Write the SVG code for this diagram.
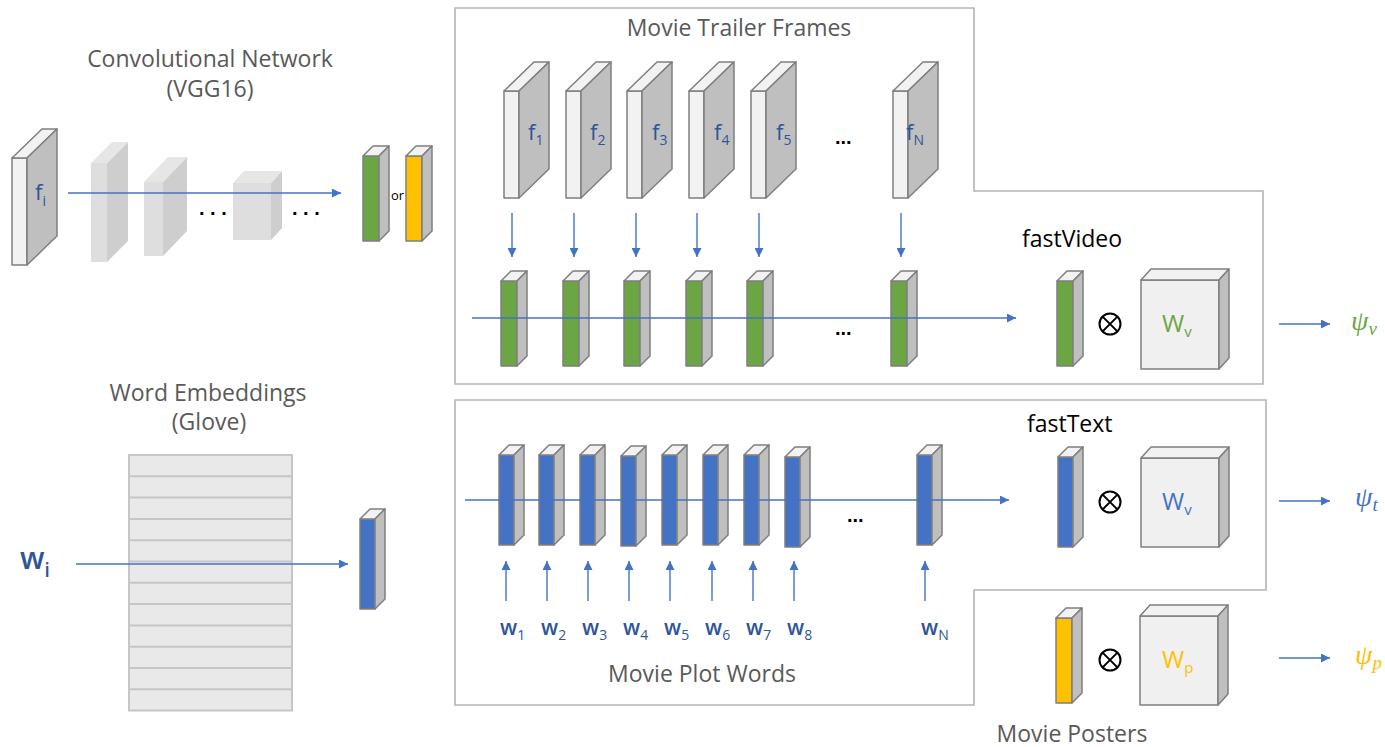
<svg xmlns="http://www.w3.org/2000/svg" xmlns:xlink="http://www.w3.org/1999/xlink" width="1385" height="747" viewBox="0 0 1385 747">
<style>
  .title { font-family: "Open Sans", "Liberation Sans", sans-serif; font-size: 23px; fill: #595959; }
  .head { font-family: "Open Sans", "Liberation Sans", sans-serif; font-size: 23px; fill: #000; }
  .lbl { font-family: "Open Sans", "Liberation Sans", sans-serif; font-size: 22px; fill: #2f5597; }
  .wl { font-family: "Open Sans", "Liberation Sans", sans-serif; font-size: 21px; font-weight: 600; fill: #2f5597; }
  .dots { font-family: "Liberation Sans", sans-serif; font-size: 20px; font-weight: bold; fill: #000; }
  .psi { font-family: "Liberation Serif", "DejaVu Serif", serif; font-style: italic; font-size: 28px; }
  .edge { stroke: #7f7f7f; stroke-width: 1.5; stroke-linejoin: round; }
  .panel { fill: none; stroke: #b4b4b4; stroke-width: 1.6; }
  .arr { stroke: #4472c4; stroke-width: 1.4; fill: none; marker-end: url(#ah); }
  .fade-f { fill: #dedede; }
  .fade-s { fill: #cecece; }
  .fade-t { fill: #e6e6e6; }
  .otimes { fill: none; stroke: #000; stroke-width: 2; }
</style>
<defs>
  <marker id="ah" markerUnits="userSpaceOnUse" markerWidth="10" markerHeight="9" refX="9" refY="4.5" orient="auto">
    <path d="M0,0 L9,4.5 L0,9 z" fill="#4472c4"/>
  </marker>
  <g id="frame" class="edge">
    <rect x="0" y="0" width="15" height="107" fill="#f2f2f2"/>
    <polygon points="0,0 30,-29 45,-29 15,0" fill="#f2f2f2"/>
    <polygon points="15,0 45,-29 45,78 15,107" fill="#bfbfbf"/>
  </g>
  <g id="gvec" class="edge">
    <rect x="0" y="0" width="16" height="85"/>
    <polygon points="0,0 10,-10 26,-10 16,0" fill="#f2f2f2"/>
    <polygon points="16,0 26,-10 26,75 16,85" fill="#bfbfbf"/>
  </g>
  <g id="bvec" class="edge">
    <rect x="0" y="0" width="15" height="90"/>
    <polygon points="0,0 10,-10 25,-10 15,0" fill="#f2f2f2"/>
    <polygon points="15,0 25,-10 25,80 15,90" fill="#bfbfbf"/>
  </g>
  <g id="wbox" class="edge">
    <rect x="0" y="0" width="78" height="89" fill="#f0f0f0"/>
    <polygon points="0,0 10,-11 88,-11 78,0" fill="#f2f2f2"/>
    <polygon points="78,0 88,-11 88,78 78,89" fill="#bfbfbf"/>
  </g>
  <g id="otimes" class="otimes">
    <circle cx="0" cy="0" r="10.5"/>
    <path d="M-7.4,-7.4 L7.4,7.4 M7.4,-7.4 L-7.4,7.4"/>
  </g>
</defs>

<g id="panels">
  <polygon id="panel-video" class="panel" points="455,8 974,8 974,191 1263,191 1263,384 455,384"/>
  <polygon id="panel-text" class="panel" points="455,400 1266,400 1266,590 974,590 974,705 455,705"/>
</g>

<!-- Convolutional network -->
<g id="conv-title">
  <text class="title" x="210" y="67" text-anchor="middle">Convolutional Network</text>
  <text class="title" x="210" y="97" text-anchor="middle">(VGG16)</text>
</g>
<g id="conv-input">
  <use xlink:href="#frame" href="#frame" x="12" y="158"/>
  <text class="lbl" x="35" y="200">f<tspan font-size="14" dy="6">i</tspan></text>
</g>
<g id="conv-layers">
  <rect class="fade-f" x="91" y="163" width="16" height="99"/>
  <polygon class="fade-s" points="107,163 128,142 128,241 107,262"/>
  <polygon class="fade-t" points="91,163 112,142 128,142 107,163"/>
  <rect class="fade-f" x="144" y="182" width="19" height="74"/>
  <polygon class="fade-s" points="163,182 187,157 187,231 163,256"/>
  <polygon class="fade-t" points="144,182 168,157 187,157 163,182"/>
  <rect class="fade-f" x="233" y="183" width="38" height="57"/>
  <polygon class="fade-s" points="271,183 282,171 282,228 271,240"/>
  <polygon class="fade-t" points="233,183 244,171 282,171 271,183"/>
  <text class="dots" x="199" y="215">. . .</text>
  <text class="dots" x="292" y="215">. . .</text>
</g>
<g id="conv-output">
  <use xlink:href="#gvec" href="#gvec" x="363" y="156" fill="#6ca644"/>
  <text x="391" y="200" font-family="Open Sans, Liberation Sans, sans-serif" font-size="13" fill="#000">or</text>
  <use xlink:href="#gvec" href="#gvec" x="406" y="156" fill="#ffc000"/>
</g>

<!-- Word embeddings -->
<g id="glove-title">
  <text class="title" x="208" y="401" text-anchor="middle">Word Embeddings</text>
  <text class="title" x="209" y="430" text-anchor="middle">(Glove)</text>
</g>
<g id="glove-matrix">
  <rect x="129" y="455" width="163" height="256" fill="#e9e9e9"/>
  <g stroke="#c6c6c6" stroke-width="2">
    <line x1="129" y1="455" x2="129" y2="711"/>
    <line x1="292" y1="455" x2="292" y2="711"/>
    <line x1="128" y1="455" x2="293" y2="455"/>
    <line x1="128" y1="476.3" x2="293" y2="476.3"/>
    <line x1="128" y1="497.6" x2="293" y2="497.6"/>
    <line x1="128" y1="518.9" x2="293" y2="518.9"/>
    <line x1="128" y1="540.2" x2="293" y2="540.2"/>
    <line x1="128" y1="561.5" x2="293" y2="561.5"/>
    <line x1="128" y1="582.8" x2="293" y2="582.8"/>
    <line x1="128" y1="604.1" x2="293" y2="604.1"/>
    <line x1="128" y1="625.4" x2="293" y2="625.4"/>
    <line x1="128" y1="646.7" x2="293" y2="646.7"/>
    <line x1="128" y1="668" x2="293" y2="668"/>
    <line x1="128" y1="689.3" x2="293" y2="689.3"/>
    <line x1="128" y1="710.6" x2="293" y2="710.6"/>
  </g>
</g>
<g id="word-input">
  <text x="20" y="569" font-family="Open Sans, Liberation Sans, sans-serif" font-size="30" font-weight="600" fill="#2f5597">w<tspan font-size="19" dy="8">i</tspan></text>
</g>
<g id="word-vector">
  <use xlink:href="#bvec" href="#bvec" x="360" y="519" fill="#4472c4"/>
</g>

<!-- Movie trailer frames -->
<g id="trailer-title">
  <text class="title" x="739" y="36" text-anchor="middle">Movie Trailer Frames</text>
</g>
<g id="frames">
  <g id="frame-1"><use xlink:href="#frame" href="#frame" x="504" y="91"/><text class="lbl" x="528" y="140">f<tspan font-size="14" dy="5">1</tspan></text></g>
  <g id="frame-2"><use xlink:href="#frame" href="#frame" x="566" y="91"/><text class="lbl" x="590" y="140">f<tspan font-size="14" dy="5">2</tspan></text></g>
  <g id="frame-3"><use xlink:href="#frame" href="#frame" x="627" y="91"/><text class="lbl" x="652" y="140">f<tspan font-size="14" dy="5">3</tspan></text></g>
  <g id="frame-4"><use xlink:href="#frame" href="#frame" x="689" y="91"/><text class="lbl" x="714" y="140">f<tspan font-size="14" dy="5">4</tspan></text></g>
  <g id="frame-5"><use xlink:href="#frame" href="#frame" x="751" y="91"/><text class="lbl" x="776" y="140">f<tspan font-size="14" dy="5">5</tspan></text></g>
  <text class="dots" x="835" y="144">...</text>
  <g id="frame-N"><use xlink:href="#frame" href="#frame" x="893" y="91"/><text class="lbl" x="906" y="140">f<tspan font-size="14" dy="5">N</tspan></text></g>
</g>
<g id="frame-features">
  <use xlink:href="#gvec" href="#gvec" x="501" y="281" fill="#6ca644"/>
  <use xlink:href="#gvec" href="#gvec" x="563" y="281" fill="#6ca644"/>
  <use xlink:href="#gvec" href="#gvec" x="624" y="281" fill="#6ca644"/>
  <use xlink:href="#gvec" href="#gvec" x="686" y="281" fill="#6ca644"/>
  <use xlink:href="#gvec" href="#gvec" x="747" y="281" fill="#6ca644"/>
  <text class="dots" x="835" y="335">...</text>
  <use xlink:href="#gvec" href="#gvec" x="891" y="281" fill="#6ca644"/>
</g>
<g id="fastvideo">
  <text class="head" x="1022" y="247">fastVideo</text>
  <use xlink:href="#gvec" href="#gvec" x="1057" y="281" fill="#6ca644"/>
  <use xlink:href="#otimes" href="#otimes" x="1110" y="324"/>
</g>
<g id="wv-video">
  <use xlink:href="#wbox" href="#wbox" x="1141" y="280"/>
  <text x="1162" y="332" font-family="Open Sans, Liberation Sans, sans-serif" font-size="24" fill="#6ca644">W<tspan font-size="15" dy="5">v</tspan></text>
</g>
<g id="psi-v">
  <text class="psi" x="1351" y="330" fill="#6ca644">ψ<tspan font-size="19" dy="5">v</tspan></text>
</g>

<!-- Movie plot words -->
<g id="word-features">
  <use xlink:href="#bvec" href="#bvec" x="499" y="455" fill="#4472c4"/>
  <use xlink:href="#bvec" href="#bvec" x="539" y="455" fill="#4472c4"/>
  <use xlink:href="#bvec" href="#bvec" x="580" y="455" fill="#4472c4"/>
  <use xlink:href="#bvec" href="#bvec" x="621" y="456" fill="#4472c4"/>
  <use xlink:href="#bvec" href="#bvec" x="662" y="455" fill="#4472c4"/>
  <use xlink:href="#bvec" href="#bvec" x="703" y="455" fill="#4472c4"/>
  <use xlink:href="#bvec" href="#bvec" x="744" y="455" fill="#4472c4"/>
  <use xlink:href="#bvec" href="#bvec" x="785" y="457" fill="#4472c4"/>
  <text class="dots" x="847" y="522">...</text>
  <use xlink:href="#bvec" href="#bvec" x="917" y="455" fill="#4472c4"/>
</g>
<g id="plot-words">
  <text class="wl" x="500" y="635">w<tspan font-size="14" font-weight="400" dy="5">1</tspan></text>
  <text class="wl" x="541" y="635">w<tspan font-size="14" font-weight="400" dy="5">2</tspan></text>
  <text class="wl" x="582" y="635">w<tspan font-size="14" font-weight="400" dy="5">3</tspan></text>
  <text class="wl" x="623" y="635">w<tspan font-size="14" font-weight="400" dy="5">4</tspan></text>
  <text class="wl" x="664" y="635">w<tspan font-size="14" font-weight="400" dy="5">5</tspan></text>
  <text class="wl" x="705" y="635">w<tspan font-size="14" font-weight="400" dy="5">6</tspan></text>
  <text class="wl" x="746" y="635">w<tspan font-size="14" font-weight="400" dy="5">7</tspan></text>
  <text class="wl" x="787" y="635">w<tspan font-size="14" font-weight="400" dy="5">8</tspan></text>
  <text class="wl" x="921" y="635">w<tspan font-size="14" font-weight="400" dy="5">N</tspan></text>
  <text class="title" x="702" y="682" text-anchor="middle">Movie Plot Words</text>
</g>
<g id="fasttext">
  <text class="head" x="1027" y="432">fastText</text>
  <use xlink:href="#bvec" href="#bvec" x="1058" y="457" fill="#4472c4"/>
  <use xlink:href="#otimes" href="#otimes" x="1110" y="502"/>
</g>
<g id="wv-text">
  <use xlink:href="#wbox" href="#wbox" x="1141" y="458"/>
  <text x="1162" y="510" font-family="Open Sans, Liberation Sans, sans-serif" font-size="24" fill="#4472c4">W<tspan font-size="15" dy="5">v</tspan></text>
</g>
<g id="psi-t">
  <text class="psi" x="1355" y="506" fill="#4472c4">ψ<tspan font-size="19" dy="5">t</tspan></text>
</g>

<!-- Movie posters -->
<g id="posters">
  <use xlink:href="#gvec" href="#gvec" x="1056" y="618" fill="#ffc000"/>
  <use xlink:href="#otimes" href="#otimes" x="1110" y="660"/>
  <text class="title" x="1072" y="742" text-anchor="middle">Movie Posters</text>
</g>
<g id="wp-poster">
  <use xlink:href="#wbox" href="#wbox" x="1140" y="616"/>
  <text x="1162" y="668" font-family="Open Sans, Liberation Sans, sans-serif" font-size="24" fill="#ffc000">W<tspan font-size="15" dy="5">p</tspan></text>
</g>
<g id="psi-p">
  <text class="psi" x="1355" y="664" fill="#ffc000">ψ<tspan font-size="19" dy="5">p</tspan></text>
</g>

<!-- connectors -->
<g id="connectors">
  <line class="arr" x1="68" y1="193" x2="341" y2="193"/>
  <line class="arr" x1="76" y1="564" x2="348" y2="564"/>
  <line class="arr" x1="512" y1="213" x2="512" y2="257"/>
  <line class="arr" x1="574" y1="213" x2="574" y2="257"/>
  <line class="arr" x1="636" y1="213" x2="636" y2="257"/>
  <line class="arr" x1="697" y1="213" x2="697" y2="257"/>
  <line class="arr" x1="759" y1="213" x2="759" y2="257"/>
  <line class="arr" x1="901" y1="213" x2="901" y2="257"/>
  <line class="arr" x1="472" y1="318" x2="1016" y2="318"/>
  <line class="arr" x1="465" y1="500" x2="1009" y2="500"/>
  <line class="arr" x1="506" y1="601" x2="506" y2="561"/>
  <line class="arr" x1="547" y1="601" x2="547" y2="561"/>
  <line class="arr" x1="588" y1="601" x2="588" y2="561"/>
  <line class="arr" x1="629" y1="601" x2="629" y2="561"/>
  <line class="arr" x1="670" y1="601" x2="670" y2="561"/>
  <line class="arr" x1="712" y1="601" x2="712" y2="561"/>
  <line class="arr" x1="753" y1="601" x2="753" y2="561"/>
  <line class="arr" x1="794" y1="601" x2="794" y2="561"/>
  <line class="arr" x1="925" y1="601" x2="925" y2="561"/>
  <line class="arr" x1="1279" y1="324" x2="1330" y2="324"/>
  <line class="arr" x1="1279" y1="501" x2="1330" y2="501"/>
  <line class="arr" x1="1279" y1="658" x2="1330" y2="658"/>
</g>
</svg>
